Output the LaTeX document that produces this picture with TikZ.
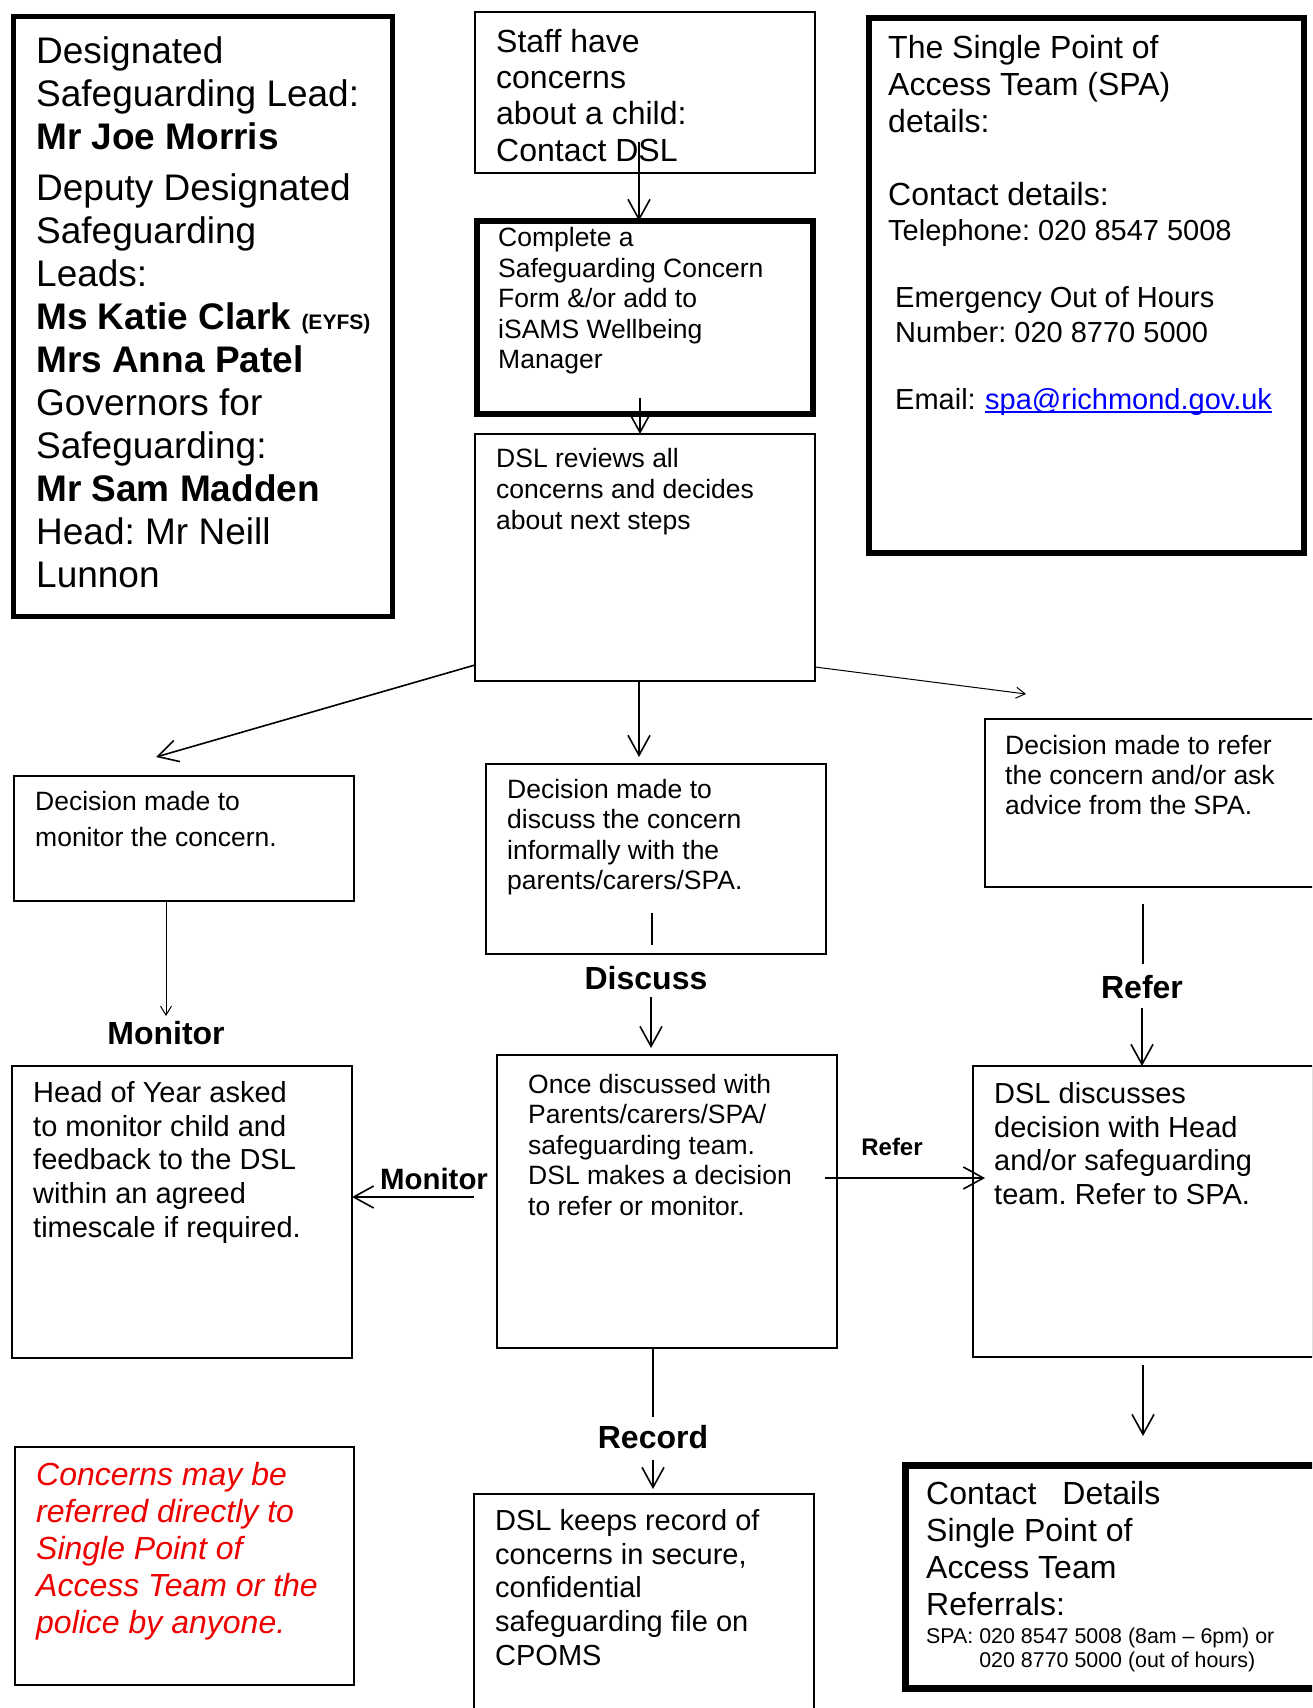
\documentclass[tikz,border=0pt]{standalone}
\usepackage{fontspec}
\setmainfont{Liberation Sans}
\usetikzlibrary{arrows.meta}

\definecolor{warnred}{RGB}{237,0,0}
\definecolor{linkblue}{RGB}{0,0,255}
\newcommand{\setfs}[2]{\fontsize{#1}{#2}\selectfont}
\frenchspacing

\tikzset{
  box/.style={draw=black, line width=1.4pt, anchor=north west, inner sep=0pt, outer sep=0pt},
  txt/.style={anchor=north west, inner sep=0pt, align=left},
  lbl/.style={font=\bfseries\setfs{32}{37}, inner sep=0pt},
  arr/.style={-{Straight Barb[length=20pt,width=22pt]}, line width=1.6pt},
  thinarr/.style={-{Straight Barb[length=9pt,width=11pt]}, line width=1pt},
}

\begin{document}
\begin{tikzpicture}[x=1pt, y=-1pt]
    \useasboundingbox (0,0) rectangle (1312,1708);
    \clip (0,0) rectangle (1312,1708);

    % boxes
    \node[box, line width=5pt, minimum width=378.6pt, minimum height=600pt]   (dsl)      at (13.4,16.7)  {};
    \node[box, minimum width=340pt, minimum height=161pt]                     (staff)    at (475,12)     {};
    \node[box, line width=6pt, minimum width=336pt, minimum height=193pt]     (complete) at (477,221)    {};
    \node[box, minimum width=340pt, minimum height=247pt]                     (review)   at (475,434)    {};
    \node[box, line width=5.5pt, minimum width=434.8pt, minimum height=535pt] (spa)      at (869,18)     {};
    \node[box, minimum width=340pt, minimum height=125pt]                     (mon)      at (14,776)     {};
    \node[box, minimum width=340pt, minimum height=190pt]                     (disc)     at (486,764)    {};
    \node[box, minimum width=340pt, minimum height=168pt]                     (ref)      at (985,719)    {};
    \node[box, minimum width=340pt, minimum height=292pt]                     (hoy)      at (12,1066)    {};
    \node[box, minimum width=340pt, minimum height=293pt]                     (once)     at (497,1055)   {};
    \node[box, minimum width=340pt, minimum height=291pt]                     (dslh)     at (973,1066)   {};
    \node[box, minimum width=339pt, minimum height=238pt]                     (anyone)   at (15,1447)    {};
    \node[box, minimum width=340pt, minimum height=250pt]                     (rec)      at (474,1494)   {};
    \node[box, line width=6.5pt, minimum width=420pt, minimum height=223pt]   (contact)  at (905.5,1465.6) {};

    % box texts
    \node[txt, font=\setfs{37}{43}] (dsl-t) at (36,36)
        {Designated\\Safeguarding Lead:\\\textbf{Mr Joe Morris}\\[8pt]Deputy Designated\\Safeguarding\\Leads:\\
         \textbf{Ms Katie Clark} {\bfseries\setfs{21}{25}(EYFS)}\\\textbf{Mrs Anna Patel}\\Governors for\\Safeguarding:\\
         \textbf{Mr Sam Madden}\\Head: Mr Neill\\Lunnon};
    \node[txt, font=\setfs{32}{36.3}] (staff-t) at (496,29) {Staff have\\concerns\\about a child:\\Contact DSL};
    \node[txt, font=\setfs{26.5}{30.5}] (complete-t) at (498,227.5)
        {Complete a\\Safeguarding Concern\\Form \&/or add to\\iSAMS Wellbeing\\Manager};
    \node[txt, font=\setfs{26.5}{31}] (review-t) at (496,447.7) {DSL reviews all\\concerns and decides\\about next steps};
    \node[txt, font=\setfs{32}{37}] (spa-t) at (888,35.5) {The Single Point of\\Access Team (SPA)\\details:};
    \node[txt, font=\setfs{29}{35}] (spa-tel) at (888,182.5) {{\setfs{32}{37}Contact details:}\\Telephone: 020 8547 5008};
    \node[txt, font=\setfs{29}{35}] (spa-emerg) at (895,286) {Emergency Out of Hours\\Number: 020 8770 5000};
    \node[txt, font=\setfs{29}{35}] (spa-mail) at (895,388) {Email:};
    \node[anchor=base west, inner sep=0pt, font=\setfs{29}{35}, text=linkblue] (spa-link)
        at ([xshift=9pt]spa-mail.base east) {spa@richmond.gov.uk};
    \draw[linkblue, line width=1.5pt] ([yshift=-3pt]spa-link.base west) -- ([yshift=-3pt]spa-link.base east);
    \node[txt, font=\setfs{26.5}{36}] (mon-t) at (35,791) {Decision made to\\monitor the concern.};
    \node[txt, font=\setfs{26.5}{30.5}] (disc-t) at (507,779)
        {Decision made to\\discuss the concern\\informally with the\\parents/carers/SPA.};
    \node[txt, font=\setfs{26.5}{30}] (ref-t) at (1005,735.4)
        {Decision made to refer\\the concern and/or ask\\advice from the SPA.};
    \node[txt, font=\setfs{29}{33.8}] (hoy-t) at (33,1081)
        {Head of Year asked\\to monitor child and\\feedback to the DSL\\within an agreed\\timescale if required.};
    \node[txt, font=\setfs{26.5}{30.5}] (once-t) at (528,1074)
        {Once discussed with\\Parents/carers/SPA/\\safeguarding team.\\DSL makes a decision\\to refer or monitor.};
    \node[txt, font=\setfs{29}{33.8}] (dslh-t) at (994,1082)
        {DSL discusses\\decision with Head\\and/or safeguarding\\team. Refer to SPA.};
    \node[txt, font=\itshape\setfs{32}{37}, text=warnred] (anyone-t) at (36,1462)
        {Concerns may be\\referred directly to\\Single Point of\\Access Team or the\\police by anyone.};
    \node[txt, font=\setfs{29}{33.8}] (rec-t) at (495,1509)
        {DSL keeps record of\\concerns in secure,\\confidential\\safeguarding file on\\CPOMS};
    \node[txt, font=\setfs{32}{37}] (contact-t) at (926,1480.6)
        {Contact\hspace{26pt}Details\\Single Point of\\Access Team\\Referrals:};
    \node[txt, font=\setfs{21.4}{24}] (contact-s) at (926,1627.7)
        {SPA: 020 8547 5008 (8am -- 6pm) or\\\hphantom{SPA: }020 8770 5000 (out of hours)};

    % path labels
    \node[lbl] (lbl-mon)  at (166,1033) {Monitor};
    \node[lbl] (lbl-disc) at (646,978)  {Discuss};
    \node[lbl] (lbl-ref)  at (1142,987) {Refer};
    \node[lbl] (lbl-rec)  at (653,1437) {Record};
    \node[lbl, font=\bfseries\setfs{29.4}{34}] (lbl-mon2) at (434,1179) {Monitor};
    \node[lbl, font=\bfseries\setfs{24}{28}]   (lbl-ref2) at (892,1147) {Refer};

    % free ends
    \coordinate (staff-out) at (639,142);
    \coordinate (compl-out) at (640,398);
    \coordinate (mon-in)    at (156,757);
    \coordinate (ref-in)    at (1026,694);
    \coordinate (disc-out)  at (652,913);
    \coordinate (ref-out)   at (1143,904);
    \coordinate (once-l)    at (474,1197);
    \coordinate (once-r)    at (825,1178);
    \coordinate (dslh-in)   at (985,1178);
    \coordinate (dslh-out)  at (1143,1365);
    \coordinate (contact-in) at (1143,1436);

    % connectors
    \draw[arr] (staff-out) -- (staff-out |- complete.north);
    \draw[arr] (compl-out) -- (compl-out |- review.north);
    \draw[arr] ([yshift=16pt]review.south west) -- (mon-in);
    \draw[arr, shorten >=7pt] ([xshift=-6pt]review.south) -- ([xshift=-6pt]review.south |- disc.north);
    \draw[thinarr] ([yshift=14pt]review.south east) -- (ref-in);
    \draw[thinarr, shorten >=5pt] (mon.south -| lbl-mon.north) -- (lbl-mon.north);
    \draw[line width=1.6pt, shorten >=9.5pt] (disc-out) -- (disc-out |- disc.south);
    \draw[arr, shorten <=7.5pt, shorten >=7pt] ([xshift=5pt]lbl-disc.south) -- ([xshift=5pt]lbl-disc.south |- once.north);
    \draw[line width=1.6pt, shorten >=11.5pt] (ref-out) -- (ref-out |- lbl-ref.north);
    \draw[arr, shorten <=9.5pt] (lbl-ref.south) -- (lbl-ref.south |- dslh.north);
    \draw[arr] (once-l) -- (once-l -| hoy.east);
    \draw[arr] (once-r) -- (dslh-in);
    \draw[line width=1.6pt, shorten >=8.5pt] (once.south -| lbl-rec.north) -- (lbl-rec.north);
    \draw[arr, shorten <=11.5pt, shorten >=5pt] (lbl-rec.south) -- (lbl-rec.south |- rec.north);
    \draw[arr] (dslh-out) -- (contact-in);
\end{tikzpicture}
\end{document}
